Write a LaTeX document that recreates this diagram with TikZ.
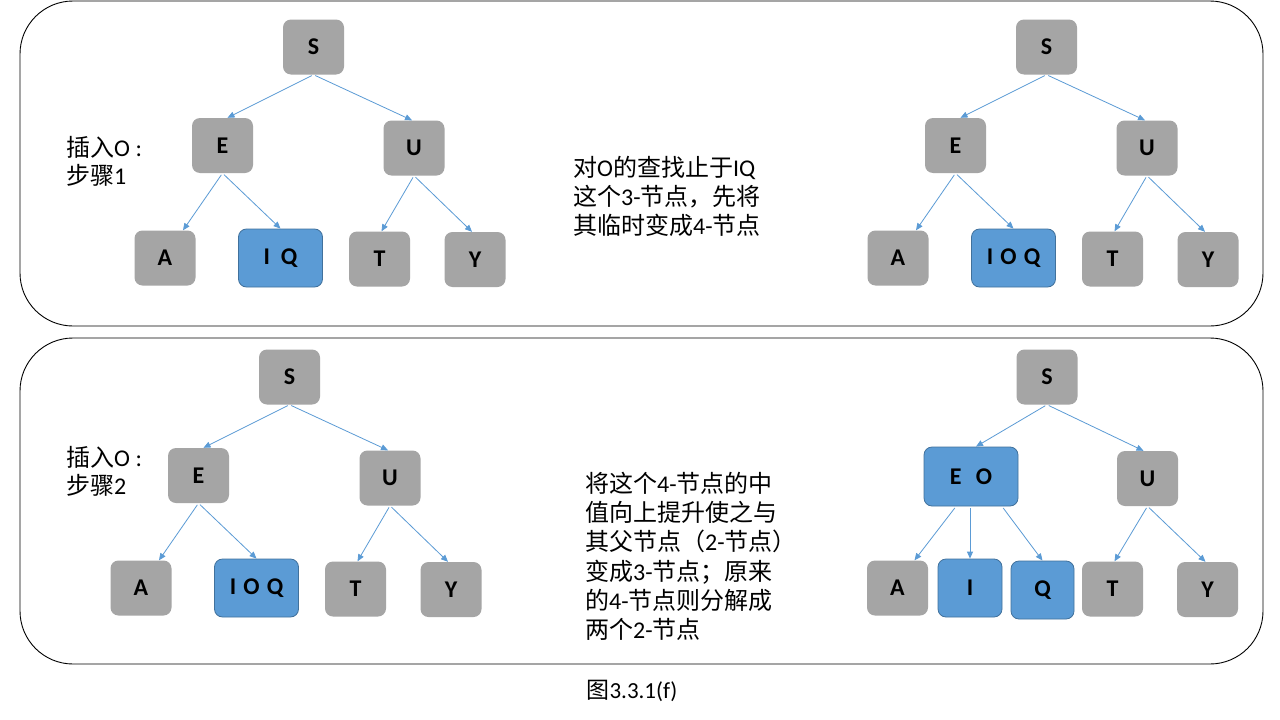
\documentclass[tikz,border=0pt]{standalone}
\usepackage{fontspec}
\setmainfont{Carlito}
\newfontfamily\zh{Noto Sans CJK SC}
\usetikzlibrary{arrows.meta,calc}
\definecolor{gnode}{HTML}{A5A5A5}
\definecolor{bnode}{HTML}{5B9BD5}
\definecolor{bdraw}{HTML}{41719C}
\definecolor{edgec}{HTML}{5B9BD5}
\tikzset{
  gbox/.style={fill=gnode, rounded corners=8pt, minimum width=61pt, minimum height=55pt,
    inner sep=0pt, font=\fontsize{24}{28}\selectfont\bfseries},
  bbox/.style={gbox, fill=bnode, draw=bdraw, line width=0.8pt},
  link/.style={draw=edgec, line width=0.8pt, -{Triangle[length=7pt,width=6pt]}, shorten <=2pt},
  panel/.style={draw=black, line width=0.9pt, rounded corners=53pt},
  note/.style={anchor=north west, align=left, inner sep=0pt, font=\fontsize{24}{29.2}\selectfont},
  side/.style={note, font=\fontsize{24}{28}\selectfont},
}
\newcommand\mytree[2]{%
  \node[gbox] (#1S) at (313.5,47) {S};
  \node[gbox] (#1E) at (222.5,145.5) {E};
  \node[gbox] (#1U) at (414,148) {U};
  \node[gbox] (#1A) at (165,258) {A};
  \node[bbox, minimum width=84pt, minimum height=58pt] (#1M) at (280.5,258) {#2};
  \node[gbox] (#1T) at (379.5,259) {T};
  \node[gbox] (#1Y) at (475,259.5) {Y};
  \draw[link] (#1S.south) -- ($(#1E.north)+(5,0)$);
  \draw[link] (#1S.south) -- ($(#1U.north)+(-2,0)$);
  \draw[link] (#1E.south) -- ($(#1A.north)+(18,0)$);
  \draw[link] (#1E.south) -- (#1M.north);
  \draw[link] (#1U.south) -- ($(#1T.north)+(2,0)$);
  \draw[link] (#1U.south) -- ($(#1Y.north)+(-3,0)$);
}
\begin{document}
\begin{tikzpicture}[x=1pt,y=-1pt]
\useasboundingbox[fill=white] (0,0) rectangle (1280,720);
\draw[panel] (20,1) rectangle (1263,326);
\draw[panel] (20,338) rectangle (1263,664);

% top left
\begin{scope}
  \mytree{a}{I\hspace{0.45em}Q}
\end{scope}
% top right
\begin{scope}[shift={(733,0)}]
  \mytree{b}{I\hspace{0.3em}O\hspace{0.3em}Q}
\end{scope}
% bottom left
\begin{scope}[shift={(-24,330)}]
  \mytree{c}{I\hspace{0.3em}O\hspace{0.3em}Q}
\end{scope}

% bottom right
\node[gbox] (dS) at (1047,377) {S};
\node[bbox, minimum width=94pt, minimum height=59pt] (dEO) at (971,476.5) {E\hspace{0.6em}O};
\node[gbox] (dU) at (1147.5,478.5) {U};
\node[gbox] (dA) at (897.5,588) {A};
\node[bbox, minimum width=64pt, minimum height=58pt] (dI) at (970,588) {I};
\node[bbox, minimum width=63pt, minimum height=58pt] (dQ) at (1042.5,590) {Q};
\node[gbox] (dT) at (1112.5,589) {T};
\node[gbox] (dY) at (1207.5,589.5) {Y};
\draw[link] (dS.south) -- ($(dEO.north)+(5,0)$);
\draw[link] (dS.south) -- ($(dU.north)+(-4,0)$);
\draw[link] ($(dEO.south)+(-15,0)$) -- ($(dA.north)+(17,0)$);
\draw[link] ($(dEO.south)+(-1,0)$) -- ($(dI.north)$);
\draw[link] ($(dEO.south)+(31,0)$) -- ($(dQ.north)$);
\draw[link] (dU.south) -- ($(dT.north)+(2,0)$);
\draw[link] (dU.south) -- ($(dY.north)+(-2,0)$);

% texts
\node[side] (s1) at (66,136) {{\zh 插入}O :\\{\zh 步骤}1};
\node[side] (s2) at (66,446) {{\zh 插入}O :\\{\zh 步骤}2};
\node[note] (t1) at (573,156) {{\zh 对}O{\zh 的查找止于}IQ\\{\zh 这个}3-{\zh 节点，先将}\\{\zh 其临时变成}4-{\zh 节点}};
\node[note] (t2) at (585,472) {{\zh 将这个}4-{\zh 节点的中}\\{\zh 值向上提升使之与}\\{\zh 其父节点（}2-{\zh 节点）}\\{\zh 变成}3-{\zh 节点；原来}\\{\zh 的}4-{\zh 节点则分解成}\\{\zh 两个}2-{\zh 节点}};
\node[font=\fontsize{23}{26}\selectfont, inner sep=0pt] (cap) at (632,691) {{\zh 图}3.3.1(f)};
\end{tikzpicture}
\end{document}
